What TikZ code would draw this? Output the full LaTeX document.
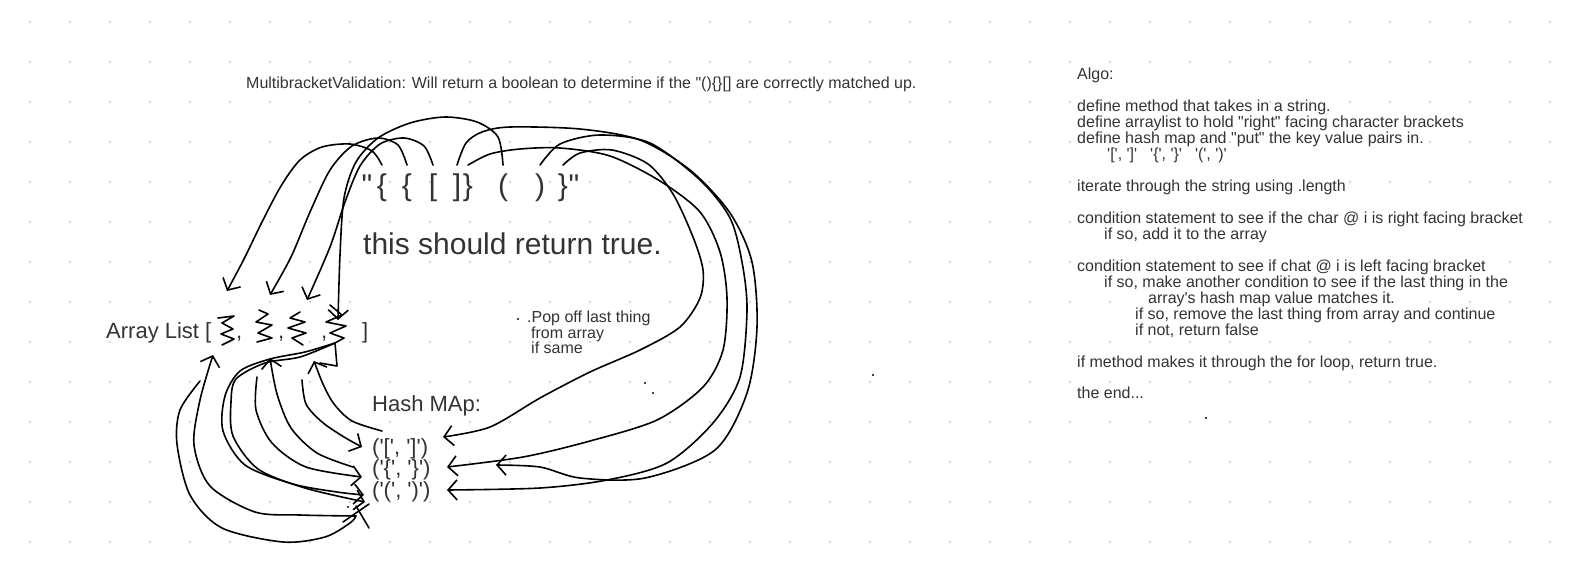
\documentclass[tikz,border=0pt]{standalone}
\usepackage{fontspec}
\newfontfamily\handfont{Liberation Sans}
\usetikzlibrary{arrows.meta}
\definecolor{ink}{RGB}{51,51,51}
\definecolor{griddot}{RGB}{212,212,212}

\begin{document}
\begin{tikzpicture}[x=1pt, y=-1pt,
	txt/.style={text=ink, inner sep=0pt, anchor=base west},
	small/.style={txt, font=\handfont\fontsize{16}{16}\selectfont},
	note/.style={txt, font=\handfont\fontsize{16}{16}\selectfont},
	mid/.style={txt, font=\handfont\fontsize{22}{24}\selectfont},
	big/.style={txt, font=\handfont\fontsize{30}{34}\selectfont},
	pen/.style={black, line width=1.6pt, line cap=round, line join=round},
	barb/.style={pen, -{Straight Barb[length=9pt, width=20pt]}}]

	\useasboundingbox (0,0) rectangle (1570,571);

	% Raster
	\foreach \gx in {30,70,...,1550}
		\foreach \gy in {22,62,...,542}
			\fill[griddot] (\gx,\gy) circle[radius=1.4pt];

	% Titel
	\node[small] (title) at (246,88) {MultibracketValidation: Will return a boolean to determine if the "()\{\}[] are correctly matched up.};

	% Zeichenkette
	\foreach \cx/\ch/\cn in {367/"/q1, 382/\{/c1, 407/\{/c2, 433/[/c3, 457/]/c4, 468/\}/c5, 503/(/c6, 540/)/c7, 563/\}/c8, 574/"/q2}{
		\node[big, anchor=base] (\cn) at (\cx,195) {\ch};
		\coordinate (\cn t) at ([yshift=8pt]\cn.north);
	}
	\node[big] (claim) at (363,254) {this should return true.};

	% Array List
	\node[mid] (alist) at (106,338) {Array List [};
	\node[mid] (k1) at (236,338) {,};
	\node[mid] (k2) at (278,338) {,};
	\node[mid] (k3) at (321,338) {,};
	\node[mid] (aend) at (362,338) {]};
	\draw[pen] (218,318) -- (234,316) -- (222,323) -- (233,329) -- (221,334) -- (234,339) -- (222,345);
	\draw[pen] (259,310) -- (268,314) -- (256,322) -- (272,325) -- (258,333) -- (272,338) -- (257,342);
	\draw[pen] (300,312) -- (290,318) -- (305,322) -- (288,328) -- (306,333) -- (292,338) -- (303,345);
	\draw[pen] (330,305) -- (342,315) -- (326,322) -- (346,326) -- (330,333) -- (344,338) -- (335,343);

	% Hash Map
	\node[mid] (hash) at (372,411) {Hash MAp:};
	\node[mid] (hm1) at (372,454) {('[', ']')};
	\node[mid] (hm2) at (372,475) {('\{', '\}')};
	\node[mid] (hm3) at (372,497) {('(', ')')};

	% Notiz
	\fill (518,319) circle[radius=1.2pt];
	\node[note] (pop1) at (527,322) {.Pop off last thing};
	\node[note] (pop2) at (531,338) {from array};
	\node[note] (pop3) at (531,353) {if same};

	% Punkte
	\foreach \px/\py in {645/383, 653/393, 873/375, 1206/418, 348/507}
		\fill (\px,\py) circle[radius=1.2pt];

	% Algo
	\foreach \ly/\lx/\lt [count=\i] in {
		79/1077/{Algo:},
		111/1077/{define method that takes in a string.},
		127/1077/{define arraylist to hold "right" facing character brackets},
		143/1077/{define hash map and "put" the key value pairs in.},
		159/1107/{'[', ']'\hspace{13pt}'\{', '\}'\hspace{13pt}'(', ')'},
		191/1077/{iterate through the string using .length},
		223/1077/{condition statement to see if the char @ i is right facing bracket},
		239/1104/{if so, add it to the array},
		271/1077/{condition statement to see if chat @ i is left facing bracket},
		287/1104/{if so, make another condition to see if the last thing in the},
		303/1148/{array's hash map value matches it.},
		319/1135/{if so, remove the last thing from array and continue},
		335/1135/{if not, return false},
		367/1077/{if method makes it through the for loop, return true.},
		398/1077/{the end...}}
		\node[small] (algo\i) at (\lx,\ly) {\lt};

	% oben links: zur Array List
	\coordinate (t1) at (227,291);
	\coordinate (t2) at (270,295);
	\coordinate (t3) at (307,300);
	\coordinate (t4) at (338,320);
	\draw[barb] plot[smooth] coordinates {(c1t) (372,151) (350,144) (322,147) (300,160) (281,186) (262,222) (244,259) (t1)};
	\draw[barb] plot[smooth] coordinates {(c2t) (398,145) (378,138) (352,146) (330,170) (310,212) (291,257) (t2)};
	\draw[barb] plot[smooth] coordinates {(c3t) (424,146) (404,138) (380,144) (360,166) (345,202) (330,247) (t3)};
	\draw[barb] plot[smooth] coordinates {(c6t) (498,137) (477,122) (445,117) (410,123) (378,138) (356,162) (344,198) (340,255) (t4)};

	% rechts: zur Hash Map
	\coordinate (h1) at (443,437);
	\coordinate (h2) at (447,467);
	\coordinate (h3) at (447,490);
	\coordinate (h4) at (496,465);
	\draw[barb] plot[smooth] coordinates {(c8t) (580,153) (612,150) (648,164) (673,194) (693,237) (703,270) (700,298) (680,327) (640,350) (590,372) (540,398) (490,427) (h1)};
	\draw[barb] plot[smooth] coordinates {(c5t) (490,154) (520,149) (560,148) (610,156) (660,181) (700,212) (720,252) (727,298) (723,350) (703,387) (657,420) (590,441) (523,457) (h2)};
	\draw[barb] plot[smooth] coordinates {(c7t) (560,144) (600,135) (650,143) (700,180) (730,218) (742,262) (747,310) (740,377) (713,423) (667,463) (607,480) (540,488) (h3)};
	\draw[barb] plot[smooth] coordinates {(c4t) (466,143) (482,132) (510,127) (580,129) (640,140) (690,170) (730,213) (752,262) (757,327) (747,393) (715,450) (645,478) (580,478) (540,467) (h4)};

	% unten links: Array List <-> Hash Map
	\coordinate (a1) at (213,355);
	\coordinate (a2) at (270,358);
	\coordinate (a4) at (314,361);
	\coordinate (e4) at (335,343);
	\coordinate (f1) at (382,431);
	\coordinate (f2) at (302,380);
	\coordinate (f3) at (353,467);
	\coordinate (f4) at (257,377);
	\coordinate (f7) at (200,381);
	\coordinate (x1) at (356,516);
	\coordinate (g1) at (362,447);
	\coordinate (g2) at (362,477);
	\coordinate (g3) at (364,495);
	\coordinate (g4) at (365,502);
	\draw[barb] plot[smooth] coordinates {(f1) (352,421) (334,404) (323,384) (a4)};
	\draw[barb] plot[smooth] coordinates {(f2) (306,404) (322,422) (344,437) (g1)};
	\draw[barb] plot[smooth] coordinates {(f3) (317,453) (291,428) (277,394) (a2)};
	\draw[barb] plot[smooth] coordinates {(f4) (256,410) (272,443) (306,467) (g2)};
	\draw[barb] plot[smooth] coordinates {(e4) (305,352) (270,359) (240,371) (225,396) (223,431) (245,465) (293,484) (337,492) (g3)};
	\draw[barb] plot[smooth] coordinates {(e4) (300,357) (265,363) (236,379) (231,402) (233,436) (258,469) (305,488) (g4)};
	\draw[pen] plot[smooth] coordinates {(f7) (180,410) (177,444) (190,495) (222,528) (283,542) (325,537) (350,523) (x1)};
	\draw[barb] plot[smooth] coordinates {(x1) (300,515) (255,512) (210,486) (194,445) (200,400) (a1)};
	\draw[pen] (e4) -- (337,366) -- (320,363);

	% Kreuz
	\draw[pen] (343,522) -- (369,504);
	\draw[pen] (356,506) -- (369,528);

\end{tikzpicture}
\end{document}
